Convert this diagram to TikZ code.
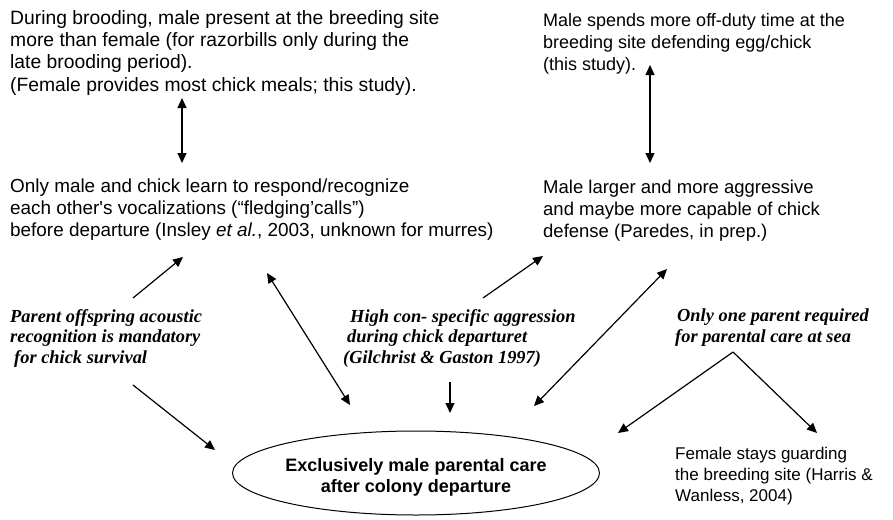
\documentclass[tikz,border=0pt]{standalone}
\usepackage{fontspec}
\setmainfont{Liberation Sans}
\newfontfamily\tms{Liberation Serif}
\usetikzlibrary{arrows.meta,shapes.geometric}
\begin{document}
\begin{tikzpicture}[x=1pt,y=-1pt,
  txt/.style={anchor=north west,inner sep=0pt,align=left,font=\fontsize{18}{22.3}\selectfont},
  itl/.style={anchor=north west,inner sep=0pt,align=left,font=\tms\bfseries\itshape\fontsize{18.4}{20.8}\selectfont},
  tip/.tip={Triangle[length=10pt,width=9pt]},
  arr/.style={line width=1.2pt,-tip},
  dbl/.style={line width=1.2pt,tip-tip}]
\useasboundingbox (0,0) rectangle (893,519);

\node[txt,font=\fontsize{19.3}{22.3}\selectfont] (tl) at (10,10) {During brooding, male present at the breeding site\\more than female (for razorbills only during the\\late brooding period).\\(Female provides most chick meals; this study).};
\node[txt] (tr) at (543,13) {Male spends more off-duty time at the\\breeding site defending egg/chick\\(this study).};
\node[txt,font=\fontsize{18.9}{22}\selectfont] (ml) at (10,179) {Only male and chick learn to respond/recognize\\each other\textquotesingle s vocalizations (“fledging’calls”)\\before departure (Insley \textit{et al.}, 2003, unknown for murres)};
\node[txt,font=\fontsize{18.5}{22}\selectfont] (mr) at (543,180) {Male larger and more aggressive\\and maybe more capable of chick\\defense (Paredes, in prep.)};
\node[itl] (il) at (10,309) {Parent offspring acoustic\\recognition is mandatory\\\hspace*{4pt}for chick survival};
\node[itl] (im) at (343,309) {\hspace*{7pt}High con- specific aggression\\\hspace*{4pt}during chick departuret\\(Gilchrist \& Gaston 1997)};
\node[itl] (ir) at (675,309) {\hspace*{2pt}Only one parent required\\for parental care at sea};
\node[txt,font=\fontsize{17}{21}\selectfont] (br) at (675,446.5) {Female stays guarding\\the breeding site (Harris \&\\Wanless, 2004)};
\node[draw,ellipse,line width=1pt,minimum width=367pt,minimum height=84pt,inner sep=0pt] (el) at (416,473) {};
\node[align=center,inner sep=0pt,font=\bfseries\fontsize{18}{21}\selectfont] (elt) at (416,477.5) {Exclusively male parental care\\after colony departure};

\coordinate (tlu) at (182,98);  \coordinate (tld) at (182,163);
\coordinate (tru) at (650,65);  \coordinate (trd) at (650,163);
\coordinate (as) at (133,298);  \coordinate (ae) at (183,257);
\coordinate (bs) at (133,385);  \coordinate (be) at (215,450);
\coordinate (cu) at (267,273);  \coordinate (cd) at (350,405);
\coordinate (ds) at (483,298);  \coordinate (de) at (543,256);
\coordinate (es) at (450,382);  \coordinate (ee) at (450,413);
\coordinate (fu) at (667,269);  \coordinate (fd) at (534,406);
\coordinate (apex) at (733,352);
\coordinate (ge) at (618,433);  \coordinate (he) at (817,433);

\draw[dbl] (tlu) -- (tld);
\draw[dbl] (tru) -- (trd);
\draw[arr] (as) -- (ae);
\draw[arr] (bs) -- (be);
\draw[dbl] (cu) -- (cd);
\draw[arr] (ds) -- (de);
\draw[arr] (es) -- (ee);
\draw[dbl] (fu) -- (fd);
\draw[arr] (apex) -- (ge);
\draw[arr] (apex) -- (he);
\end{tikzpicture}
\end{document}
